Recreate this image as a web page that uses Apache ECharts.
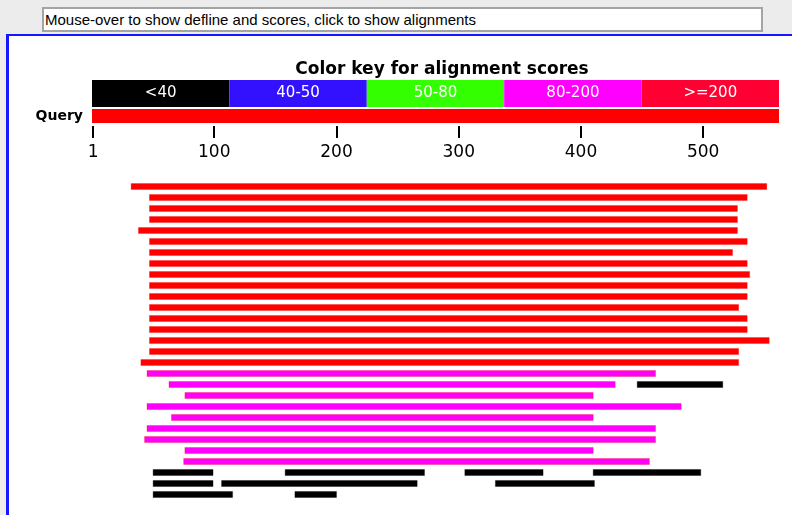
<!DOCTYPE html>
<html>
<head>
<meta charset="utf-8">
<title>BLAST hits overview</title>
<script src="https://cdn.jsdelivr.net/npm/echarts@6.0.0/dist/echarts.min.js"></script>
<style>
html, body { margin: 0; padding: 0; }
body { width: 792px; height: 515px; background: #ececec; position: relative; overflow: hidden; }
.defline {
  position: absolute; left: 42px; top: 7px; width: 716px; height: 21px;
  border: 2px solid #a4a4a4; background: #fff; padding-left: 1px;
  font: 15px "Liberation Sans", Arial, sans-serif; line-height: 21px; color: #000;
  white-space: nowrap;
}
.frame {
  position: absolute; left: 6px; top: 34px; width: 800px; height: 500px;
  border-left: 3px solid #1717ff; border-top: 2px solid #1717ff; background: #fff;
}
#chart { position: absolute; left: 0; top: 0; width: 792px; height: 515px; }
</style>
</head>
<body>
<div class="defline">Mouse-over to show defline and scores, click to show alignments</div>
<div class="frame"></div>
<div id="chart"></div>
<script>
// colour key
const keyLabels = ['<40', '40-50', '50-80', '80-200', '>=200'];
const keyColors = ['#000000', '#3311ff', '#33ff00', '#ff00ff', '#ff0033'];
// colour of the hit bars per score class (same order as the key)
const hitColors = ['#000000', '#3311ff', '#33ff00', '#ff00ff', '#ff0000'];

const queryLength = 562;
const rulerTicks = [1, 100, 200, 300, 400, 500];

// [row, start, end, score class]
const hits = [
  [0, 32, 552, 4],
  [1, 47, 536, 4],
  [2, 47, 528, 4],
  [3, 47, 528, 4],
  [4, 38, 528, 4],
  [5, 47, 536, 4],
  [6, 47, 524, 4],
  [7, 47, 536, 4],
  [8, 47, 538, 4],
  [9, 47, 536, 4],
  [10, 47, 536, 4],
  [11, 47, 529, 4],
  [12, 47, 536, 4],
  [13, 47, 536, 4],
  [14, 47, 554, 4],
  [15, 47, 529, 4],
  [16, 40, 529, 4],
  [17, 45, 461, 3],
  [18, 63, 428, 3],
  [18, 446, 516, 0],
  [19, 76, 410, 3],
  [20, 45, 482, 3],
  [21, 65, 410, 3],
  [22, 45, 461, 3],
  [23, 43, 461, 3],
  [24, 76, 410, 3],
  [25, 75, 456, 3],
  [26, 50, 99, 0],
  [26, 158, 272, 0],
  [26, 305, 369, 0],
  [26, 410, 498, 0],
  [27, 50, 99, 0],
  [27, 106, 266, 0],
  [27, 330, 411, 0],
  [28, 50, 115, 0],
  [28, 166, 200, 0]
];

const rowCount = Math.max(...hits.map(h => h[0])) + 1;
const rows = Array.from({ length: rowCount }, (_, i) => String(i + 1));

function renderHit(params, api) {
  const row = api.value(0);
  const a = api.coord([api.value(1), row]);
  const b = api.coord([api.value(2), row]);
  const h = api.size([0, 1])[1] * 0.55;
  const cls = api.value(3);
  return {
    type: 'rect',
    shape: { x: a[0], y: a[1] - h / 2, width: b[0] - a[0], height: h },
    style: {
      fill: hitColors[cls],
      stroke: cls === 0 ? 'rgba(0,0,0,0.35)' : 'rgba(255,0,0,0.3)',
      lineWidth: 1
    }
  };
}

const font = 'DejaVu Sans, Verdana, sans-serif';

const options = {
  animation: false,
  title: {
    text: 'Color key for alignment scores',
    left: 437,
    top: 55,
    textAlign: 'center',
    textStyle: { fontFamily: font, fontSize: 17, fontWeight: 'bold', color: '#000', lineHeight: 20 }
  },
  grid: [
    { left: 92, width: 687, top: 80, height: 27 },   // key
    { left: 92, width: 687, top: 109, height: 14 },  // query
    { left: 92, width: 687, top: 100, height: 26 },  // ruler
    { left: 92, width: 687, top: 181, height: 319 }  // hits
  ],
  xAxis: [
    { gridIndex: 0, type: 'category', data: keyLabels, show: false },
    { gridIndex: 1, type: 'value', min: 0, max: queryLength, show: false },
    {
      gridIndex: 2, type: 'value', min: 0, max: queryLength, position: 'bottom',
      axisLine: { show: false },
      splitLine: { show: false },
      axisTick: { show: true, customValues: rulerTicks, length: 12, lineStyle: { color: '#000', width: 2 } },
      axisLabel: { customValues: rulerTicks, margin: 18, fontSize: 17, fontFamily: font, color: '#000' }
    },
    { gridIndex: 3, type: 'value', min: 0, max: queryLength, show: false }
  ],
  yAxis: [
    { gridIndex: 0, type: 'value', min: 0, max: 1, show: false },
    {
      gridIndex: 1, type: 'category', data: ['Query'],
      axisLine: { show: false },
      axisTick: { show: false },
      axisLabel: { margin: 9, fontSize: 14, fontWeight: 'bold', fontFamily: font, color: '#000' }
    },
    { gridIndex: 2, type: 'value', min: 0, max: 1, show: false },
    { gridIndex: 3, type: 'category', data: rows, inverse: true, show: false }
  ],
  series: [
    {
      type: 'bar',
      xAxisIndex: 0, yAxisIndex: 0,
      barCategoryGap: 0,
      data: keyLabels.map((l, i) => ({ value: 1, itemStyle: { color: keyColors[i] } })),
      label: { show: true, position: 'inside', formatter: '{b}', color: '#fff', fontSize: 15, fontFamily: font }
    },
    {
      type: 'bar',
      xAxisIndex: 1, yAxisIndex: 1,
      barWidth: '100%',
      data: [queryLength],
      itemStyle: { color: '#ff0000' }
    },
    {
      type: 'custom',
      xAxisIndex: 3, yAxisIndex: 3,
      renderItem: renderHit,
      encode: { x: [1, 2], y: 0 },
      data: hits
    }
  ]
};

const chart = echarts.init(document.getElementById('chart'));
chart.setOption(options);
</script>
</body>
</html>
